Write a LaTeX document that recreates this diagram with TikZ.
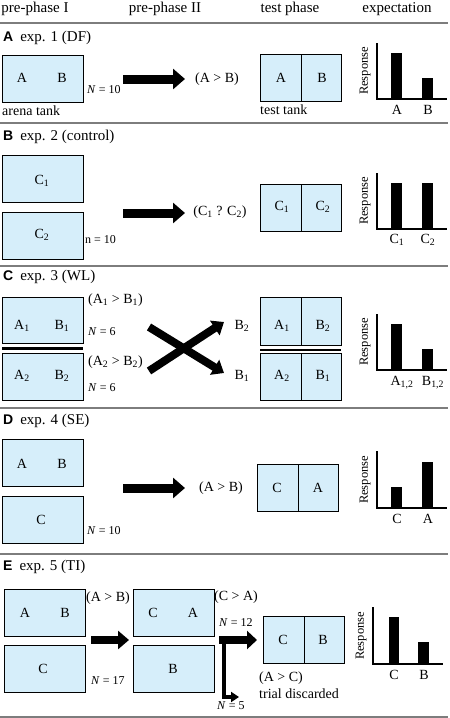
\documentclass[tikz,border=0pt]{standalone}
\usepackage{fontspec}
\setmainfont{Liberation Serif}
\newfontfamily\panelfont{Liberation Sans}
\usetikzlibrary{arrows.meta}
\definecolor{tankblue}{RGB}{214,238,250}
\definecolor{rulegray}{RGB}{125,125,125}
\begin{document}
\begin{tikzpicture}[x=1pt, y=-1pt, font=\fontsize{14}{16}\selectfont,
  head/.style={font=\fontsize{15}{17}\selectfont},
  panel/.style={anchor=west, font=\fontsize{15}{17}\selectfont, inner sep=0pt},
  small/.style={anchor=west, font=\fontsize{12}{14}\selectfont, inner sep=0pt},
  resp/.style={rotate=90, font=\fontsize{12.5}{14}\selectfont, inner sep=0pt},
  tank/.style={draw, line width=0.9pt, fill=tankblue, anchor=north west,
    inner sep=0pt, minimum width=81pt, minimum height=47pt},
  fat/.style={line width=9pt, -{Triangle[length=12pt, width=20pt]}},
  rule/.style={draw=rulegray, line width=1.4pt},
  axis/.style={line width=1.3pt}]
  \useasboundingbox (0,0) rectangle (450,718);
  % column heads
  \node[head] (hpre1) at (35,9) {pre-phase I};
  \node[head] (hpre2) at (165,9) {pre-phase II};
  \node[head] (htest) at (290,9) {test phase};
  \node[head] (hexp) at (397,9) {expectation};
  \foreach \y in {23,123,266,408,554,717} \draw[rule] (0,\y) -- (448,\y);

  % A: exp. 1
  \node[panel] (pA) at (3,38) {{\panelfont\bfseries\fontsize{14}{16}\selectfont A}\hspace{7pt}exp. 1 (DF)};
  \node[tank] (arena) at (2,55) {};
  \node (arA) at (22,78) {A};
  \node (arB) at (62,78) {B};
  \node[small] (nA) at (87,90) {\textit{N} = 10};
  \node[anchor=west, inner sep=0pt] (arlab) at (2,111) {arena tank};
  \coordinate (fA1) at (123,79);
  \coordinate (fA2) at (185,79);
  \draw[fat] (fA1) -- (fA2);
  \node (resA) at (217,79) {(A > B)};
  \node[tank] (testA) at (260,54) {};
  \draw[line width=0.9pt] (testA.north) -- (testA.south);
  \node (tA) at (281,78) {A};
  \node (tB) at (322,78) {B};
  \node[anchor=west, inner sep=0pt] (testlab) at (260,110) {test tank};
  \fill (391,99) rectangle (402,53);
  \fill (422,99) rectangle (433,78);
  \draw[axis] (377,43) -- (377,99) -- (447,99);
  \node[resp] (rA) at (365,71) {Response};
  \node (xA) at (397,110) {A};
  \node (xB) at (428,110) {B};

  % B: exp. 2
  \node[panel] (pB) at (3,137) {{\panelfont\bfseries\fontsize{14}{16}\selectfont B}\hspace{7pt}exp. 2 (control)};
  \node[tank] (c1box) at (2,155) {};
  \node[tank] (c2box) at (2,212) {};
  \node (c1lab) at (42,181) {C\textsubscript{1}};
  \node (c2lab) at (42,235) {C\textsubscript{2}};
  \node[small] (nB) at (85,240) {n = 10};
  \coordinate (fB1) at (123,213);
  \coordinate (fB2) at (185,213);
  \draw[fat] (fB1) -- (fB2);
  \node (resB) at (220,212) {(C\textsubscript{1} ? C\textsubscript{2})};
  \node[tank] (testB) at (260,184) {};
  \draw[line width=0.9pt] (testB.north) -- (testB.south);
  \node (tC1) at (282,207) {C\textsubscript{1}};
  \node (tC2) at (323,207) {C\textsubscript{2}};
  \fill (391,229) rectangle (402,183);
  \fill (422,229) rectangle (433,183);
  \draw[axis] (377,173) -- (377,229) -- (447,229);
  \node[resp] (rB) at (365,201) {Response};
  \node (xC1) at (397,240) {C\textsubscript{1}};
  \node (xC2) at (428,240) {C\textsubscript{2}};

  % C: exp. 3
  \node[panel] (pC) at (3,277) {{\panelfont\bfseries\fontsize{14}{16}\selectfont C}\hspace{7pt}exp. 3 (WL)};
  \node[tank, minimum height=46pt] (ab1box) at (2,297) {};
  \node[tank] (ab2box) at (2,353) {};
  \draw[line width=2.8pt] (2,348.5) -- (83,348.5);
  \node (a1lab) at (22,326) {A\textsubscript{1}};
  \node (b1lab) at (62,326) {B\textsubscript{1}};
  \node (a2lab) at (22,376) {A\textsubscript{2}};
  \node (b2lab) at (62,376) {B\textsubscript{2}};
  \node[anchor=west, inner sep=0pt] (resC1) at (88,300) {(A\textsubscript{1} > B\textsubscript{1})};
  \node[small] (nC1) at (88,332) {\textit{N} = 6};
  \node[anchor=west, inner sep=0pt] (resC2) at (88,362) {(A\textsubscript{2} > B\textsubscript{2})};
  \node[small] (nC2) at (88,388) {\textit{N} = 6};
  \coordinate (xa1) at (149,371);
  \coordinate (xa2) at (224,322);
  \coordinate (xb1) at (149,327);
  \coordinate (xb2) at (224,373);
  \draw[line width=8pt, -{Triangle[length=11pt, width=17pt]}] (xa1) -- (xa2);
  \draw[line width=8pt, -{Triangle[length=11pt, width=17pt]}] (xb1) -- (xb2);
  \node (toB2) at (242,326) {B\textsubscript{2}};
  \node (toB1) at (242,376) {B\textsubscript{1}};
  \node[tank, minimum height=48pt] (testC1) at (260,297) {};
  \node[tank] (testC2) at (260,353) {};
  \draw[line width=0.9pt] (testC1.north) -- (testC1.south);
  \draw[line width=0.9pt] (testC2.north) -- (testC2.south);
  \draw[line width=2.8pt] (260,350) -- (341,350);
  \node (tA1) at (282,326) {A\textsubscript{1}};
  \node (tB2) at (323,326) {B\textsubscript{2}};
  \node (tA2) at (282,376) {A\textsubscript{2}};
  \node (tB1) at (323,376) {B\textsubscript{1}};
  \fill (391,370) rectangle (402,324);
  \fill (422,370) rectangle (433,349);
  \draw[axis] (377,314) -- (377,370) -- (447,370);
  \node[resp] (rC) at (365,342) {Response};
  \node (xA12) at (402,383) {A\textsubscript{1,2}};
  \node (xB12) at (433,383) {B\textsubscript{1,2}};

  % D: exp. 4
  \node[panel] (pD) at (3,421) {{\panelfont\bfseries\fontsize{14}{16}\selectfont D}\hspace{7pt}exp. 4 (SE)};
  \node[tank] (abD) at (2,439) {};
  \node[tank] (cD) at (2,496) {};
  \node (dA) at (22,464) {A};
  \node (dB) at (62,464) {B};
  \node (dC) at (41,520) {C};
  \node[small] (nD) at (87,531) {\textit{N} = 10};
  \coordinate (fD1) at (123,488);
  \coordinate (fD2) at (185,488);
  \draw[fat] (fD1) -- (fD2);
  \node (resD) at (221,488) {(A > B)};
  \node[tank] (testD) at (257,464) {};
  \draw[line width=0.9pt] (testD.north) -- (testD.south);
  \node (tdC) at (277,488) {C};
  \node (tdA) at (318,488) {A};
  \fill (391,508) rectangle (402,487);
  \fill (422,508) rectangle (433,462);
  \draw[axis] (377,451) -- (377,508) -- (447,508);
  \node[resp] (rD) at (365,480) {Response};
  \node (xdC) at (397,519) {C};
  \node (xdA) at (428,519) {A};

  % E: exp. 5
  \node[panel] (pE) at (3,567) {{\panelfont\bfseries\fontsize{14}{16}\selectfont E}\hspace{7pt}exp. 5 (TI)};
  \node[tank] (abE) at (4,589) {};
  \node[tank] (cE) at (4,645) {};
  \node (eA) at (25,613) {A};
  \node (eB) at (65,613) {B};
  \node (eC) at (43,669) {C};
  \node[anchor=west, inner sep=0pt] (resE1) at (86,598) {(A > B)};
  \node[small] (nE17) at (91,681) {\textit{N} = 17};
  \coordinate (fE1) at (91,640);
  \coordinate (fE2) at (129,640);
  \draw[line width=8pt, -{Triangle[length=11pt, width=18pt]}] (fE1) -- (fE2);
  \node[tank] (caE) at (133,589) {};
  \node[tank] (bE) at (133,645) {};
  \node (eC2) at (153,613) {C};
  \node (eA2) at (193,613) {A};
  \node (eB2) at (173,669) {B};
  \node[anchor=west, inner sep=0pt] (resE2) at (214,597) {(C > A)};
  \node[small] (nE12) at (219,623) {\textit{N} = 12};
  \coordinate (kE0) at (219,640);
  \coordinate (kE1) at (257,640);
  \coordinate (kE2) at (224,640);
  \coordinate (kE3) at (224,699);
  \coordinate (kE4) at (222,697);
  \coordinate (kE5) at (239,697);
  \draw[line width=8pt, -{Triangle[length=10pt, width=18pt]}] (kE0) -- (kE1);
  \draw[line width=4pt] (kE2) -- (kE3);
  \draw[line width=4pt, -{Triangle[length=8pt, width=10pt]}] (kE4) -- (kE5);
  \node[small] (nE5) at (217,706) {\textit{N} = 5};
  \node[tank] (testE) at (263,616) {};
  \draw[line width=0.9pt] (testE.north) -- (testE.south);
  \node (teC) at (283,640) {C};
  \node (teB) at (323,640) {B};
  \node[anchor=west, inner sep=0pt] (resE3) at (259,678) {(A > C)};
  \node[anchor=west, inner sep=0pt] (discard) at (259,694) {trial discarded};
  \fill (389,664) rectangle (399,617);
  \fill (418,664) rectangle (429,642);
  \draw[axis] (373,607) -- (373,664) -- (443,664);
  \node[resp] (rE) at (361,636) {Response};
  \node (xeC) at (394,675) {C};
  \node (xeB) at (424,675) {B};
\end{tikzpicture}
\end{document}
